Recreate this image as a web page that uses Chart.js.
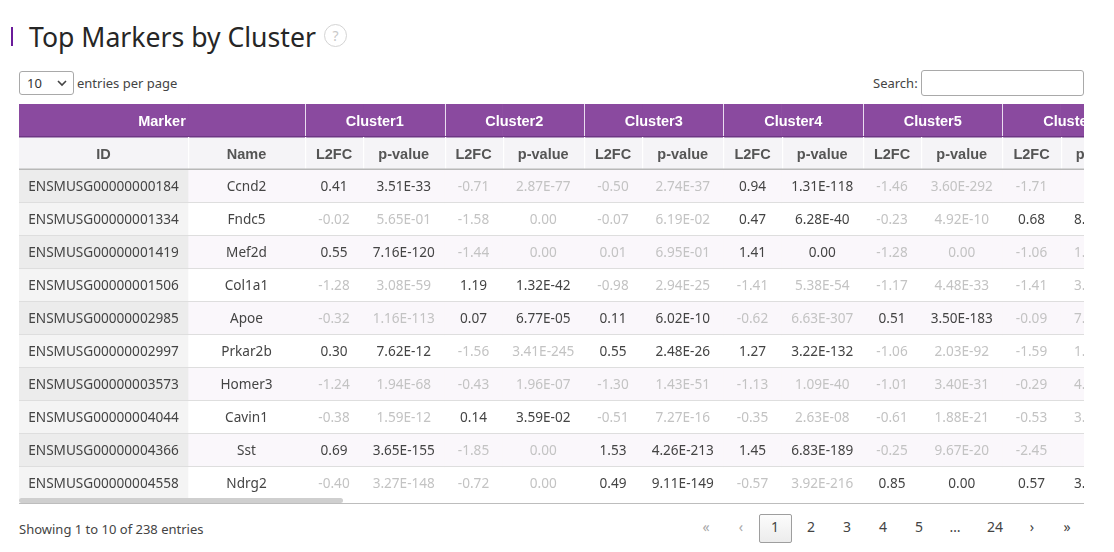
<!DOCTYPE html>
<html>
<head>
<meta charset="utf-8">
<script src="https://cdn.jsdelivr.net/npm/chart.js@4.4.0/dist/chart.umd.min.js"></script>
<style>
  body { margin: 0; width: 1114px; height: 552px; background: #fff; position: relative; overflow: hidden;
         font-family: "Noto Sans", sans-serif; color: #444; }
  .abs { position: absolute; white-space: nowrap; }
  #bar { left: 11px; top: 27px; width: 2px; height: 19px; background: #6a1b9a; }
  #title { left: 29px; top: 23px; font-size: 26.6px; line-height: 28px; color: #262626; }
  #help { left: 324px; top: 24px; width: 21px; height: 21px; border: 1px solid #d4d4d4; border-radius: 50%;
          font-size: 14px; line-height: 21px; text-align: center; color: #c8c8c8; }
  #sel { left: 19px; top: 71px; width: 55px; height: 24px; border: 1px solid #a9a9a9; border-radius: 3px; box-sizing: border-box; }
  #sel span { position: absolute; left: 7px; top: 2px; font-size: 13px; line-height: 18px; color: #333; }
  #sel svg { position: absolute; left: 37px; top: 8px; }
  #epp { left: 77px; top: 74px; font-size: 13px; line-height: 18px; color: #444; }
  #slab { left: 873px; top: 74px; font-size: 13px; line-height: 18px; color: #444; }
  #sbox { left: 921px; top: 70px; width: 163px; height: 26px; border: 1px solid #a9a9a9; border-radius: 3px; box-sizing: border-box; }
  #wrap { left: 19px; top: 104px; width: 1065px; height: 396px; overflow: hidden; }
  #inner { position: relative; height: 396px; }
  #thumb { left: 19px; top: 498px; width: 324px; height: 5px; background: #cfcfcf; border-radius: 3px; }
  #bline { left: 19px; top: 503px; width: 1065px; height: 1px; background: #bdbdbd; }
  #info { left: 19px; top: 520px; font-size: 13px; line-height: 18px; color: #444; }
  .pg { position: absolute; top: 518px; font-size: 14px; line-height: 18px; transform: translateX(-50%); color: #444; }
  .pg.off { color: #a8a8a8; }
  #cur { left: 759px; top: 514px; width: 33px; height: 29px; border: 1px solid #9e9e9e; border-radius: 2px; box-sizing: border-box;
         background: linear-gradient(#fcfcfc, #ececec); }
</style>
</head>
<body>
<div class="abs" id="bar"></div>
<div class="abs" id="title">Top Markers by Cluster</div>
<div class="abs" id="help">?</div>

<div class="abs" id="sel"><span>10</span>
  <svg width="10" height="7"><polyline points="1,1 5,5 9,1" fill="none" stroke="#444" stroke-width="1.6"/></svg>
</div>
<div class="abs" id="epp">entries per page</div>
<div class="abs" id="slab">Search:</div>
<div class="abs" id="sbox"></div>

<div class="abs" id="wrap"><div id="inner"><canvas id="markerTable"></canvas></div></div>
<div class="abs" id="thumb"></div>
<div class="abs" id="bline"></div>

<div class="abs" id="info">Showing 1 to 10 of 238 entries</div>
<div class="abs" id="cur"></div>
<span class="pg off" style="left:706px">«</span>
<span class="pg off" style="left:741px">‹</span>
<span class="pg" style="left:775px">1</span>
<span class="pg" style="left:811px">2</span>
<span class="pg" style="left:847px">3</span>
<span class="pg" style="left:883px">4</span>
<span class="pg" style="left:919px">5</span>
<span class="pg" style="left:955px">…</span>
<span class="pg" style="left:995px">24</span>
<span class="pg" style="left:1032px">›</span>
<span class="pg" style="left:1067px">»</span>

<script>
const geneIds = ['ENSMUSG00000000184', 'ENSMUSG00000001334', 'ENSMUSG00000001419', 'ENSMUSG00000001506',
  'ENSMUSG00000002985', 'ENSMUSG00000002997', 'ENSMUSG00000003573', 'ENSMUSG00000004044',
  'ENSMUSG00000004366', 'ENSMUSG00000004558'];
const geneNames = ['Ccnd2', 'Fndc5', 'Mef2d', 'Col1a1', 'Apoe', 'Prkar2b', 'Homer3', 'Cavin1', 'Sst', 'Ndrg2'];
const clusters = ['Cluster1', 'Cluster2', 'Cluster3', 'Cluster4', 'Cluster5', 'Cluster6'];

const l2fcC1 = [0.41, -0.02, 0.55, -1.28, -0.32, 0.30, -1.24, -0.38, 0.69, -0.40];
const pvalC1 = [3.51e-33, 5.65e-01, 7.16e-120, 3.08e-59, 1.16e-113, 7.62e-12, 1.94e-68, 1.59e-12, 3.65e-155, 3.27e-148];
const l2fcC2 = [-0.71, -1.58, -1.44, 1.19, 0.07, -1.56, -0.43, 0.14, -1.85, -0.72];
const pvalC2 = [2.87e-77, 0, 0, 1.32e-42, 6.77e-05, 3.41e-245, 1.96e-07, 3.59e-02, 0, 0];
const l2fcC3 = [-0.50, -0.07, 0.01, -0.98, 0.11, 0.55, -1.30, -0.51, 1.53, 0.49];
const pvalC3 = [2.74e-37, 6.19e-02, 6.95e-01, 2.94e-25, 6.02e-10, 2.48e-26, 1.43e-51, 7.27e-16, 4.26e-213, 9.11e-149];
const l2fcC4 = [0.94, 0.47, 1.41, -1.41, -0.62, 1.27, -1.13, -0.35, 1.45, -0.57];
const pvalC4 = [1.31e-118, 6.28e-40, 0, 5.38e-54, 6.63e-307, 3.22e-132, 1.09e-40, 2.63e-08, 6.83e-189, 3.92e-216];
const l2fcC5 = [-1.46, -0.23, -1.28, -1.17, 0.51, -1.06, -1.01, -0.61, -0.25, 0.85];
const pvalC5 = [3.60e-292, 4.92e-10, 0, 4.48e-33, 3.50e-183, 2.03e-92, 3.40e-31, 1.88e-21, 9.67e-20, 0];
const l2fcC6 = [-1.71, 0.68, -1.06, -1.41, -0.09, -1.59, -0.29, -0.53, -2.45, 0.57];
const pvalC6 = [0, 8.14e-75, 1.12e-30, 3.05e-41, 7.48e-03, 1.24e-88, 4.31e-09, 3.27e-17, 0, 3.72e-95];

const l2fcs = [l2fcC1, l2fcC2, l2fcC3, l2fcC4, l2fcC5, l2fcC6];
const pvals = [pvalC1, pvalC2, pvalC3, pvalC4, pvalC5, pvalC6];

// column layout (px)
const W_ID = 169, W_NAME = 117, W_L2FC = 58, W_P = 81.5;

const fmtP = p => {
  if (p === 0) return '0.00';
  const [m, e] = p.toExponential(2).split('e');
  const n = Math.abs(+e);
  return m + 'E' + (+e < 0 ? '-' : '+') + (n < 10 ? '0' + n : n);
};
const isUp = (c, r) => l2fcs[c][r] > 0 && pvals[c][r] < 0.05;

// columns: ID, Name, then L2FC / p-value per cluster
const columns = [
  { sub: 'ID', width: W_ID, text: r => geneIds[r], color: () => '#444' },
  { sub: 'Name', width: W_NAME, text: r => geneNames[r], color: () => '#444' }
];
clusters.forEach((c, ci) => {
  columns.push({ sub: 'L2FC', width: W_L2FC, text: r => l2fcs[ci][r].toFixed(2), color: r => isUp(ci, r) ? '#444' : '#c3c3c3' });
  columns.push({ sub: 'p-value', width: W_P, text: r => fmtP(pvals[ci][r]), color: r => isUp(ci, r) ? '#444' : '#c3c3c3' });
});
const groups = [['Marker', 0, 1]].concat(clusters.map((c, i) => [c, 2 + 2 * i, 3 + 2 * i]));

const rowLabels = ['head', 'sub'].concat(geneIds);
const totalWidth = columns.reduce((s, c) => s + c.width, 0);
document.getElementById('inner').style.width = totalWidth + 'px';

const cellBg = (row, col) => {
  if (row === 0) return '#8a4a9f';
  if (row === 1) return '#f5f4f7';
  const odd = (row - 2) % 2 === 0;
  if (col === 0) return odd ? '#ececec' : '#f4f4f4';
  return odd ? '#faf7fb' : '#ffffff';
};

const cellText = {
  id: 'cellText',
  afterDatasetsDraw(chart) {
    const ctx = chart.ctx;
    const metas = columns.map((c, i) => chart.getDatasetMeta(i));
    const cell = (ci, ri) => {
      const p = metas[ci].data[ri].getProps(['x', 'y', 'base', 'height'], true);
      return { l: p.base, r: p.x, t: p.y - p.height / 2, b: p.y + p.height / 2, cy: p.y };
    };
    ctx.save();
    ctx.textAlign = 'center';
    ctx.textBaseline = 'middle';

    // top header: merged groups
    ctx.font = 'bold 14.5px "Liberation Sans", Arial, sans-serif';
    ctx.fillStyle = '#fff';
    groups.forEach(([label, a, b], gi) => {
      const ca = cell(a, 0), cb = cell(b, 0);
      ctx.fillText(label, (ca.l + cb.r) / 2, ca.cy + 1);
      if (gi > 0) { ctx.fillStyle = '#e9dcef'; ctx.fillRect(Math.round(ca.l), ca.t, 1, ca.b - ca.t); ctx.fillStyle = '#fff'; }
    });
    const h0 = cell(0, 0);
    ctx.fillStyle = '#6d3684';
    ctx.fillRect(0, h0.b - 1, chart.width, 1.5);

    // sub header
    ctx.fillStyle = '#555';
    columns.forEach((col, ci) => {
      const c = cell(ci, 1);
      ctx.fillText(col.sub, (c.l + c.r) / 2, c.cy + 1);
    });
    ctx.fillStyle = '#ffffff';
    columns.forEach((col, ci) => {
      if (ci > 0) { const c = cell(ci, 1); ctx.fillRect(Math.round(c.l), c.t, 1.2, c.b - c.t); }
    });
    const h1 = cell(0, 1);
    ctx.fillStyle = '#b8b8b8';
    ctx.fillRect(0, h1.b - 1.5, chart.width, 1.5);

    // body cells
    ctx.font = '13.6px "Noto Sans", sans-serif';
    for (let r = 0; r < geneIds.length; r++) {
      columns.forEach((col, ci) => {
        const c = cell(ci, r + 2);
        ctx.fillStyle = col.color(r);
        ctx.fillText(col.text(r), (c.l + c.r) / 2, c.cy + 1);
      });
      const c0 = cell(0, r + 2);
      if (r < geneIds.length - 1) {
        ctx.fillStyle = '#dedede';
        ctx.fillRect(0, c0.b - 1, chart.width, 1);
      }
    }
    ctx.restore();
  }
};

new Chart(document.getElementById('markerTable'), {
  type: 'bar',
  data: {
    labels: rowLabels,
    datasets: columns.map((col, ci) => ({
      label: col.sub,
      data: rowLabels.map(() => col.width),
      backgroundColor: c => cellBg(c.dataIndex, ci),
      borderWidth: 0,
      barPercentage: 1,
      categoryPercentage: 1
    }))
  },
  options: {
    indexAxis: 'y',
    responsive: true,
    maintainAspectRatio: false,
    animation: false,
    events: [],
    layout: { padding: 0 },
    plugins: { legend: { display: false }, tooltip: { enabled: false } },
    scales: {
      x: { stacked: true, display: false, min: 0, max: totalWidth },
      y: { stacked: true, display: false }
    }
  },
  plugins: [cellText]
});
</script>
</body>
</html>
